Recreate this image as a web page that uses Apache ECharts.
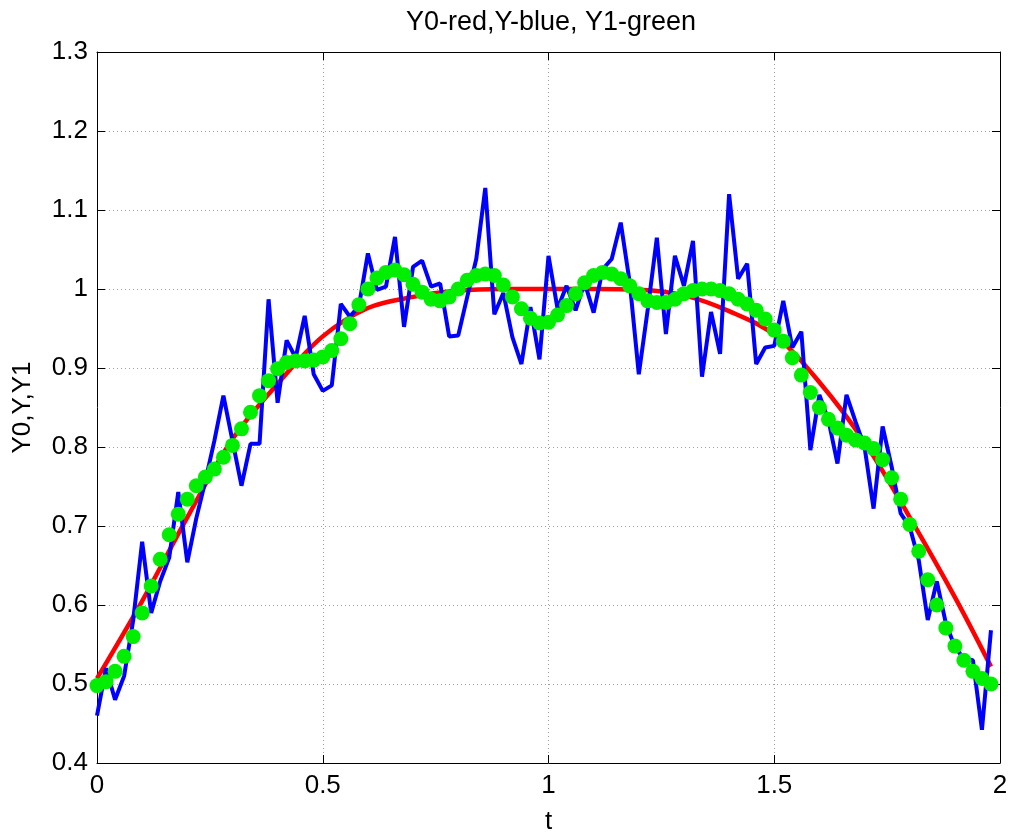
<!DOCTYPE html>
<html>
<head>
<meta charset="utf-8">
<script src="https://cdn.jsdelivr.net/npm/echarts@6/dist/echarts.min.js"></script>
<style>
html,body{margin:0;padding:0;background:#fff;}
#chart{width:1011px;height:834px;}
</style>
</head>
<body>
<div id="chart"></div>
<script>
// ---- Data ----
const titleText = 'Y0-red,Y-blue, Y1-green';
const xName = 't';
const yName = 'Y0,Y,Y1';
const xTicks = [0, 0.5, 1, 1.5, 2];
const yTicks = [0.4, 0.5, 0.6, 0.7, 0.8, 0.9, 1.0, 1.1, 1.2, 1.3];

// sample grid t = 0, 0.02, ..., 1.98
const tStart = 0, tStep = 0.02, tCount = 100;

// Y (blue, noisy)
const yBlue = [
  0.46, 0.52, 0.48, 0.51, 0.58, 0.68, 0.59, 0.63, 0.66, 0.743,
  0.654, 0.71, 0.757, 0.808, 0.865, 0.808, 0.751, 0.804, 0.804, 0.987,
  0.856, 0.935, 0.913, 0.966, 0.892, 0.871, 0.878, 0.981, 0.965, 0.978,
  1.045, 0.999, 1.003, 1.066, 0.952, 1.028, 1.036, 1.003, 1.007, 0.940,
  0.941, 0.990, 1.038, 1.128, 0.968, 0.995, 0.939, 0.905, 0.977, 0.911,
  1.042, 0.975, 1.004, 0.973, 1.008, 0.970, 1.025, 1.038, 1.084, 1.008,
  0.892, 0.975, 1.065, 0.943, 1.042, 1.004, 1.061, 0.889, 0.971, 0.918,
  1.120, 1.013, 1.032, 0.905, 0.926, 0.928, 0.985, 0.926, 0.946, 0.796,
  0.866, 0.834, 0.779, 0.866, 0.832, 0.800, 0.722, 0.826, 0.775, 0.716,
  0.699, 0.657, 0.581, 0.630, 0.577, 0.547, 0.532, 0.530, 0.442, 0.568
];

// Y1 (green, dots)
const yGreen = [
  0.498, 0.503, 0.516, 0.535, 0.560, 0.590, 0.624, 0.658, 0.689, 0.715,
  0.734, 0.751, 0.762, 0.772, 0.787, 0.802, 0.823, 0.844, 0.865, 0.884,
  0.899, 0.907, 0.909, 0.909, 0.910, 0.914, 0.922, 0.937, 0.956, 0.980,
  1.000, 1.014, 1.021, 1.024, 1.018, 1.006, 0.996, 0.987, 0.985, 0.990,
  1.000, 1.011, 1.017, 1.019, 1.017, 1.005, 0.990, 0.975, 0.963, 0.957,
  0.958, 0.967, 0.979, 0.994, 1.008, 1.017, 1.021, 1.019, 1.013, 1.004,
  0.994, 0.985, 0.983, 0.983, 0.987, 0.994, 0.998, 1.000, 1.000, 0.998,
  0.994, 0.987, 0.981, 0.973, 0.962, 0.948, 0.934, 0.913, 0.891, 0.869,
  0.850, 0.835, 0.824, 0.815, 0.809, 0.805, 0.798, 0.784, 0.761, 0.734,
  0.702, 0.668, 0.632, 0.600, 0.571, 0.548, 0.530, 0.516, 0.507, 0.500
];

// Y0 (red, smooth) read at coarser t positions
const tRed = [0, 0.1, 0.2, 0.3, 0.4, 0.5, 0.6, 0.7, 0.8, 0.9, 1.0, 1.1, 1.2, 1.3, 1.4, 1.5, 1.6, 1.7, 1.8, 1.9, 1.98];
const yRed = [0.507, 0.605, 0.711, 0.810, 0.880, 0.940, 0.976, 0.990, 0.998, 1.0, 1.0, 1.0, 0.999, 0.992, 0.972, 0.942, 0.882, 0.806, 0.711, 0.610, 0.522];

// ---- Build ----
const tGrid = [];
for (let i = 0; i < tCount; i++) tGrid.push(+(tStart + i * tStep).toFixed(2));
const pair = (xs, ys) => xs.map((x, i) => [x, ys[i]]);

const FONT = '"Liberation Sans", Arial, Helvetica, sans-serif';
const FS = 26;
const GRIDLINE = {color: '#a0a0a0', type: [1, 3], width: 1};

const chart = echarts.init(document.getElementById('chart'), null, {renderer: 'canvas'});
const axisCommon = {
  axisLine: {show: true, onZero: false, lineStyle: {color: '#000', width: 1}},
  axisTick: {show: true, inside: true, length: 8, lineStyle: {color: '#000', width: 1}},
};
chart.setOption({
  animation: false,
  backgroundColor: '#fff',
  title: {
    text: titleText, left: 546, top: 4, textAlign: 'center',
    textStyle: {fontFamily: FONT, fontSize: 27, fontWeight: 'normal', color: '#000'}
  },
  grid: {left: 97, right: 11, top: 52, bottom: 71, containLabel: false, outerBoundsMode: 'none'},
  xAxis: [
    Object.assign({
      type: 'value', min: xTicks[0], max: xTicks[xTicks.length - 1], interval: 0.5,
      name: xName, nameLocation: 'middle', nameGap: 46,
      nameTextStyle: {fontFamily: FONT, fontSize: FS, color: '#000'},
      axisLabel: {fontFamily: FONT, fontSize: FS, color: '#000', margin: 10},
      splitLine: {show: true, lineStyle: GRIDLINE}
    }, axisCommon),
    Object.assign({
      type: 'value', position: 'top', min: xTicks[0], max: xTicks[xTicks.length - 1], interval: 0.5,
      axisLabel: {show: false}, splitLine: {show: false}
    }, axisCommon)
  ],
  yAxis: [
    Object.assign({
      type: 'value', min: yTicks[0], max: yTicks[yTicks.length - 1], interval: 0.1,
      name: yName, nameLocation: 'middle', nameGap: 61,
      nameTextStyle: {fontFamily: FONT, fontSize: FS, color: '#000'},
      axisLabel: {fontFamily: FONT, fontSize: FS, color: '#000', margin: 9},
      splitLine: {show: true, lineStyle: GRIDLINE}
    }, axisCommon),
    Object.assign({
      type: 'value', position: 'right', min: yTicks[0], max: yTicks[yTicks.length - 1], interval: 0.1,
      axisLabel: {show: false}, splitLine: {show: false}
    }, axisCommon)
  ],
  series: [
    {
      name: 'Y0', type: 'line', data: pair(tRed, yRed), smooth: 0.35,
      showSymbol: false, lineStyle: {color: '#ff0000', width: 4.5}, z: 2
    },
    {
      name: 'Y', type: 'line', data: pair(tGrid, yBlue),
      showSymbol: false, lineStyle: {color: '#0000ff', width: 4}, z: 3
    },
    {
      name: 'Y1', type: 'scatter', data: pair(tGrid, yGreen),
      symbol: 'circle', symbolSize: 15, itemStyle: {color: '#00ee00', opacity: 1}, z: 4
    }
  ]
});
</script>
</body>
</html>
